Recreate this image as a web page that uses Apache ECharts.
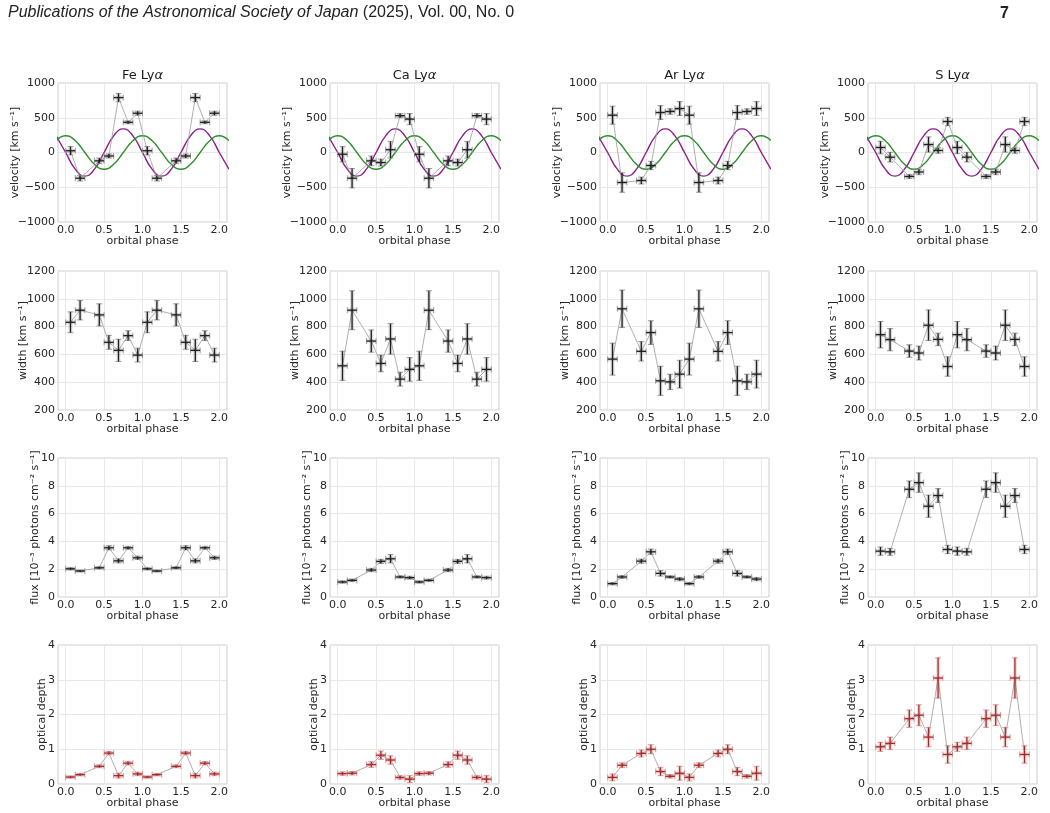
<!DOCTYPE html>
<html>
<head>
<meta charset="utf-8">
<script src="https://cdn.jsdelivr.net/npm/echarts@6/dist/echarts.min.js"></script>
<style>
  html, body { margin: 0; background: #fff; }
  #main { width: 1050px; height: 813px; }
</style>
</head>
<body>
<div id="main"></div>
<script>
// orbital phase bins (two cycles shown), half bin width for x error
var phase = [0.0625, 0.1875, 0.4375, 0.5625, 0.6875, 0.8125, 0.9375, 1.0625, 1.1875, 1.4375, 1.5625, 1.6875, 1.8125, 1.9375];
var phaseErr = 0.0625;

var lines = ['Fe', 'Ca', 'Ar', 'S'];

// velocity [km/s]
var feVel = [25, -370, -120, -50, 790, 435, 565, 25, -370, -120, -50, 790, 435, 565];
var feVelErr = [60, 40, 40, 30, 60, 20, 30, 60, 40, 40, 30, 60, 20, 30];
var caVel = [-25, -370, -120, -145, 40, 530, 480, -25, -370, -120, -145, 40, 530, 480];
var caVelErr = [110, 140, 70, 50, 120, 30, 80, 110, 140, 70, 50, 120, 30, 80];
var arVel = [537, -432, -403, -187, 575, 590, 633, 537, -432, -403, -187, 575, 590, 633];
var arVelErr = [130, 140, 50, 60, 100, 40, 100, 130, 140, 50, 60, 100, 40, 100];
var sVel = [72, -67, -345, -280, 115, 29, 446, 72, -67, -345, -280, 115, 29, 446];
var sVelErr = [90, 70, 30, 40, 110, 40, 60, 90, 70, 30, 40, 110, 40, 60];

// width [km/s]
var feWid = [831, 918, 884, 687, 629, 735, 595, 831, 918, 884, 687, 629, 735, 595];
var feWidErr = [75, 70, 80, 50, 80, 35, 50, 75, 70, 80, 50, 80, 35, 50];
var caWid = [518, 918, 696, 535, 711, 422, 492, 518, 918, 696, 535, 711, 422, 492];
var caWidErr = [105, 140, 80, 60, 110, 50, 85, 105, 140, 80, 60, 110, 50, 85];
var arWid = [566, 928, 622, 757, 410, 402, 458, 566, 928, 622, 757, 410, 402, 458];
var arWidErr = [115, 135, 70, 85, 105, 55, 100, 115, 135, 70, 85, 105, 55, 100];
var sWid = [742, 706, 624, 610, 810, 708, 513, 742, 706, 624, 610, 810, 708, 513];
var sWidErr = [95, 80, 45, 50, 110, 45, 70, 95, 80, 45, 50, 110, 45, 70];

// flux [1e-3 photons/cm2/s]
var feFlux = [2.03, 1.87, 2.1, 3.54, 2.6, 3.54, 2.82, 2.03, 1.87, 2.1, 3.54, 2.6, 3.54, 2.82];
var feFluxErr = [0.08, 0.06, 0.08, 0.15, 0.15, 0.1, 0.12, 0.08, 0.06, 0.08, 0.15, 0.15, 0.1, 0.12];
var caFlux = [1.08, 1.2, 1.94, 2.56, 2.75, 1.44, 1.39, 1.08, 1.2, 1.94, 2.56, 2.75, 1.44, 1.39];
var caFluxErr = [0.08, 0.08, 0.12, 0.15, 0.3, 0.08, 0.1, 0.08, 0.08, 0.12, 0.15, 0.3, 0.08, 0.1];
var arFlux = [0.96, 1.44, 2.58, 3.25, 1.7, 1.44, 1.29, 0.96, 1.44, 2.58, 3.25, 1.7, 1.44, 1.29];
var arFluxErr = [0.08, 0.1, 0.15, 0.2, 0.2, 0.08, 0.12, 0.08, 0.1, 0.15, 0.2, 0.2, 0.08, 0.12];
var sFlux = [3.3, 3.25, 7.75, 8.23, 6.53, 7.3, 3.42, 3.3, 3.25, 7.75, 8.23, 6.53, 7.3, 3.42];
var sFluxErr = [0.3, 0.25, 0.6, 0.7, 0.8, 0.5, 0.3, 0.3, 0.25, 0.6, 0.7, 0.8, 0.5, 0.3];

// optical depth
var feTau = [0.2, 0.27, 0.51, 0.89, 0.24, 0.6, 0.29, 0.2, 0.27, 0.51, 0.89, 0.24, 0.6, 0.29];
var feTauErr = [0.03, 0.03, 0.04, 0.05, 0.07, 0.05, 0.05, 0.03, 0.03, 0.04, 0.05, 0.07, 0.05, 0.05];
var caTau = [0.3, 0.31, 0.56, 0.83, 0.69, 0.19, 0.14, 0.3, 0.31, 0.56, 0.83, 0.69, 0.19, 0.14];
var caTauErr = [0.05, 0.05, 0.08, 0.12, 0.12, 0.05, 0.1, 0.05, 0.05, 0.08, 0.12, 0.12, 0.05, 0.1];
var arTau = [0.19, 0.54, 0.88, 1.0, 0.36, 0.22, 0.31, 0.19, 0.54, 0.88, 1.0, 0.36, 0.22, 0.31];
var arTauErr = [0.1, 0.07, 0.1, 0.13, 0.12, 0.05, 0.2, 0.1, 0.07, 0.1, 0.13, 0.12, 0.05, 0.2];
var sTau = [1.07, 1.17, 1.88, 1.98, 1.35, 3.05, 0.85, 1.07, 1.17, 1.88, 1.98, 1.35, 3.05, 0.85];
var sTauErr = [0.13, 0.18, 0.25, 0.3, 0.28, 0.58, 0.25, 0.13, 0.18, 0.25, 0.3, 0.28, 0.58, 0.25];

// model velocity curves (purple / green), read every 0.125 in phase
var curveX = [-0.125, 0, 0.125, 0.25, 0.375, 0.5, 0.625, 0.75, 0.875, 1.0, 1.125, 1.25, 1.375, 1.5, 1.625, 1.75, 1.875, 2.0, 2.125];
var purpleVel = [240, 0, -240, -340, -240, 0, 240, 340, 240, 0, -240, -340, -240, 0, 240, 340, 240, 0, -240];
var greenVel = [170, 240, 170, 0, -170, -240, -170, 0, 170, 240, 170, 0, -170, -240, -170, 0, 170, 240, 170];

var xTicks = [0, 0.5, 1, 1.5, 2];

var rows = [
  { name: 'velocity [km s⁻¹]', min: -1000, max: 1000, interval: 500, gap: 37, red: false,
    data: [[feVel, feVelErr], [caVel, caVelErr], [arVel, arVelErr], [sVel, sVelErr]] },
  { name: 'width [km s⁻¹]', min: 200, max: 1200, interval: 200, gap: 29, red: false,
    data: [[feWid, feWidErr], [caWid, caWidErr], [arWid, arWidErr], [sWid, sWidErr]] },
  { name: 'flux [10⁻³ photons cm⁻² s⁻¹]', min: 0, max: 10, interval: 2, gap: 17, red: false,
    data: [[feFlux, feFluxErr], [caFlux, caFluxErr], [arFlux, arFluxErr], [sFlux, sFluxErr]] },
  { name: 'optical depth', min: 0, max: 4, interval: 1, gap: 10, red: true,
    data: [[feTau, feTauErr], [caTau, caTauErr], [arTau, arTauErr], [sTau, sTauErr]] }
];

var lefts = [58, 330, 600, 868];
var tops = [83, 271, 458, 645];
var W = 169, H = 139;
var font = 'DejaVu Sans';
var textColor = '#262626';

function errRender(main, cap, halo) {
  return function (params, api) {
    var x = api.value(0), y = api.value(1), ex = api.value(2), ey = api.value(3);
    var c = api.coord([x, y]);
    var l = api.coord([x - ex, y]), r = api.coord([x + ex, y]);
    var t = api.coord([x, y + ey]), b = api.coord([x, y - ey]);
    var k = 3;
    return {
      type: 'group',
      children: [
        { type: 'line', shape: { x1: l[0], y1: c[1], x2: r[0], y2: c[1] }, style: { stroke: halo, lineWidth: 4 } },
        { type: 'line', shape: { x1: c[0], y1: t[1], x2: c[0], y2: b[1] }, style: { stroke: halo, lineWidth: 4 } },
        { type: 'line', shape: { x1: l[0], y1: c[1] - k, x2: l[0], y2: c[1] + k }, style: { stroke: cap, lineWidth: 1 } },
        { type: 'line', shape: { x1: r[0], y1: c[1] - k, x2: r[0], y2: c[1] + k }, style: { stroke: cap, lineWidth: 1 } },
        { type: 'line', shape: { x1: c[0] - k, y1: t[1], x2: c[0] + k, y2: t[1] }, style: { stroke: cap, lineWidth: 1 } },
        { type: 'line', shape: { x1: c[0] - k, y1: b[1], x2: c[0] + k, y2: b[1] }, style: { stroke: cap, lineWidth: 1 } },
        { type: 'line', shape: { x1: l[0], y1: c[1], x2: r[0], y2: c[1] }, style: { stroke: main, lineWidth: 1.3 } },
        { type: 'line', shape: { x1: c[0], y1: t[1], x2: c[0], y2: b[1] }, style: { stroke: main, lineWidth: 1.3 } }
      ]
    };
  };
}

var grids = [], xAxes = [], yAxes = [], series = [];
var idx = 0;
rows.forEach(function (row, ri) {
  row.data.forEach(function (pair, ci) {
    grids.push({
      left: lefts[ci], top: tops[ri], width: W, height: H,
      show: true, borderColor: '#cccccc', borderWidth: 1, backgroundColor: 'transparent'
    });
    xAxes.push({
      gridIndex: idx, type: 'value', min: -0.1, max: 2.1,
      name: 'orbital phase', nameLocation: 'middle', nameGap: 14, nameMoveOverlap: false,
      nameTextStyle: { fontFamily: font, fontSize: 11, color: textColor },
      axisLine: { show: false }, axisTick: { show: false, customValues: xTicks },
      axisLabel: { customValues: xTicks, margin: 3, fontFamily: font, fontSize: 11, color: textColor,
        formatter: function (v) { return v.toFixed(1); } },
      splitLine: { show: true, lineStyle: { color: '#e8e8e8', width: 1 } }
    });
    yAxes.push({
      gridIndex: idx, type: 'value', min: row.min, max: row.max, interval: row.interval,
      name: row.name, nameLocation: 'middle', nameGap: row.gap, nameMoveOverlap: false,
      nameTextStyle: { fontFamily: font, fontSize: 11, color: textColor },
      axisLine: { show: false }, axisTick: { show: false },
      axisLabel: { margin: 3, fontFamily: font, fontSize: 11, color: textColor,
        formatter: function (v) { return v < 0 ? '\u2212' + Math.abs(v) : String(v); } },
      splitLine: { show: true, lineStyle: { color: '#e8e8e8', width: 1 } }
    });

    if (ri === 0) {
      series.push({
        type: 'line', xAxisIndex: idx, yAxisIndex: idx, smooth: 0.5, showSymbol: false, z: 2,
        data: curveX.map(function (x, i) { return [x, purpleVel[i]]; }),
        lineStyle: { color: '#8b1f8b', width: 1.4 }
      });
      series.push({
        type: 'line', xAxisIndex: idx, yAxisIndex: idx, smooth: 0.5, showSymbol: false, z: 2,
        data: curveX.map(function (x, i) { return [x, greenVel[i]]; }),
        lineStyle: { color: '#2f8f2f', width: 1.4 }
      });
    }

    var vals = pair[0], errs = pair[1];
    series.push({
      type: 'line', xAxisIndex: idx, yAxisIndex: idx, showSymbol: false, z: 3,
      data: phase.map(function (p, i) { return [p, vals[i]]; }),
      lineStyle: { color: '#9a9a9a', width: 0.8 }
    });
    var main = row.red ? '#a52a2a' : '#1e1e1e';
    var cap = row.red ? '#d99a9a' : '#9c9c9c';
    var halo = row.red ? 'rgba(190,60,60,0.18)' : 'rgba(0,0,0,0.13)';
    series.push({
      type: 'custom', xAxisIndex: idx, yAxisIndex: idx, z: 4,
      renderItem: errRender(main, cap, halo),
      encode: { x: 0, y: 1 },
      data: phase.map(function (p, i) { return [p, vals[i], phaseErr, errs[i]]; })
    });
    idx++;
  });
});

var graphics = [
  { type: 'text', left: 8, top: 5, style: {
      text: '{i|Publications of the Astronomical Society of Japan}{n| (2025), Vol. 00, No. 0}',
      rich: {
        i: { fontFamily: 'Liberation Sans', fontStyle: 'italic', fontSize: 16, fill: '#222' },
        n: { fontFamily: 'Liberation Sans', fontSize: 16, fill: '#222' }
      } } },
  { type: 'text', left: 1000, top: 6, style: { text: '7', fontFamily: 'Liberation Sans', fontWeight: 'bold', fontSize: 16, fill: '#222' } }
];
lines.forEach(function (el, ci) {
  graphics.push({
    type: 'text', x: lefts[ci] + W / 2, y: 69,
    style: {
      text: '{n|' + el + ' Ly}{a|α}', align: 'center',
      rich: {
        n: { fontFamily: font, fontSize: 13, fill: '#1a1a1a' },
        a: { fontFamily: font, fontStyle: 'italic', fontSize: 13, fill: '#1a1a1a' }
      }
    }
  });
});

var myChart = echarts.init(document.getElementById('main'));
myChart.setOption({
  backgroundColor: '#ffffff',
  animation: false,
  grid: grids,
  xAxis: xAxes,
  yAxis: yAxes,
  series: series,
  graphic: graphics
});
</script>
</body>
</html>
